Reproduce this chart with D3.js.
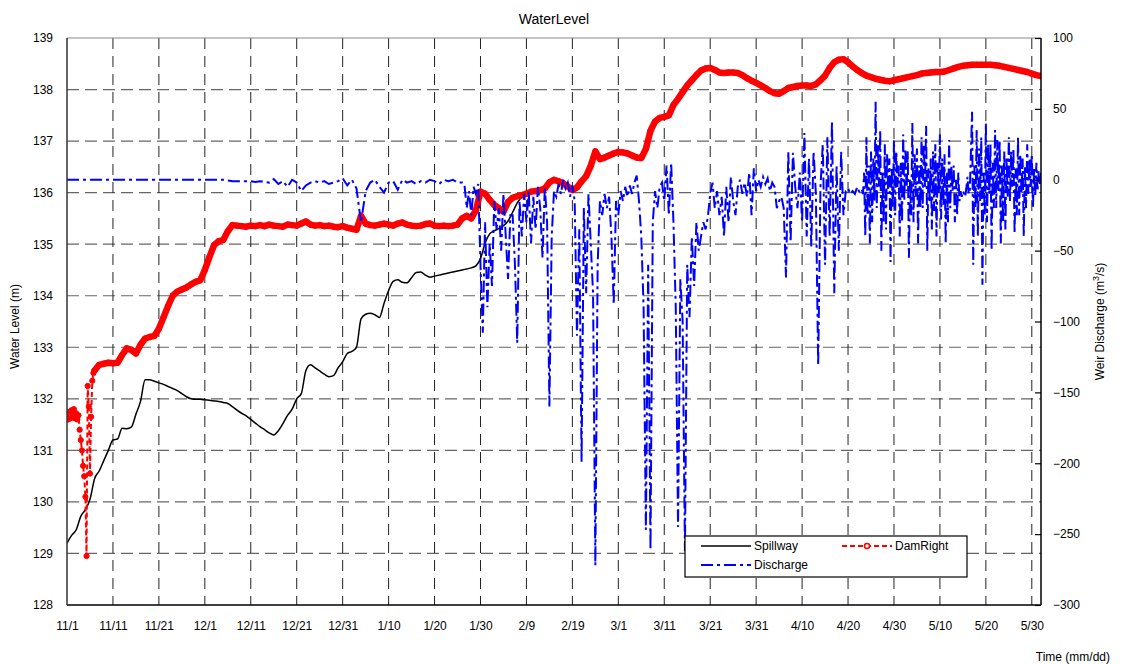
<!DOCTYPE html>
<html>
<head>
<meta charset="utf-8">
<script src="https://cdn.jsdelivr.net/npm/d3@7"></script>
<style>
  body { margin: 0; background: #fff; }
  svg text { font-family: "Liberation Sans", Arial, sans-serif; fill: #000; }
</style>
</head>
<body>
<div id="chart"></div>
<script>
// series start at 2018-11-01 (day 0); x domain runs to 2019-06-01 (day 212)
const startDay = Date.UTC(2018, 10, 1);
const lastDay = 212;
const tickDays = [0, 10, 20, 30, 40, 50, 60, 70, 80, 90, 100, 110, 120, 130, 140, 150, 160, 170, 180, 190, 200, 210];
const levelTicks = [128, 129, 130, 131, 132, 133, 134, 135, 136, 137, 138, 139];
const dischargeTicks = [-300, -250, -200, -150, -100, -50, 0, 50, 100];

// Spillway water level (m), daily from day 0
const spillwayLevel = [
  129.20, 129.35, 129.46, 129.72, 129.85, 130.05, 130.45, 130.60, 130.80, 131.00,
  131.20, 131.22, 131.43, 131.42, 131.45, 131.70, 131.95, 132.37, 132.37, 132.34,
  132.31, 132.28, 132.24, 132.20, 132.16, 132.10, 132.04, 132.00, 131.99, 131.99,
  131.98, 131.97, 131.96, 131.95, 131.93, 131.91, 131.85, 131.78, 131.72, 131.67,
  131.60, 131.53, 131.46, 131.40, 131.34, 131.30, 131.38, 131.52, 131.68, 131.80,
  132.00, 132.10, 132.55, 132.66, 132.60, 132.54, 132.48, 132.43, 132.45, 132.60,
  132.72, 132.88, 132.92, 133.00, 133.55, 133.64, 133.66, 133.63, 133.58, 133.85,
  134.10, 134.28, 134.31, 134.26, 134.25, 134.35, 134.45, 134.46, 134.40, 134.36,
  134.38, 134.40, 134.42, 134.44, 134.46, 134.48, 134.50, 134.52, 134.54, 134.58,
  134.72, 135.02, 135.20, 135.26, 135.30, 135.36, 135.45, 135.62, 135.80, 135.92,
  136.00
];

// DamRight water level (m): quarter-day readings for days 0-5.75, then daily from day 6
const damRightEarly = [
  131.65, 131.60, 131.75, 131.62, 131.78, 131.70, 131.80, 131.62,
  131.72, 131.60, 131.68, 131.40, 131.20, 131.00, 130.70, 130.50,
  130.10, 128.95, 132.25, 131.85, 130.55, 131.65, 132.35, 132.50
];
const damRightDaily = [
  132.55, 132.66, 132.68, 132.70, 132.69, 132.70, 132.85, 132.98, 132.95, 132.88,
  133.05, 133.17, 133.20, 133.22, 133.36, 133.58, 133.80, 134.00, 134.08, 134.12,
  134.16, 134.22, 134.27, 134.30, 134.50, 134.75, 134.98, 135.06, 135.08, 135.25,
  135.37, 135.36, 135.35, 135.34, 135.36, 135.35, 135.37, 135.35, 135.38, 135.36,
  135.35, 135.34, 135.38, 135.37, 135.36, 135.40, 135.44, 135.38, 135.36, 135.37,
  135.35, 135.36, 135.34, 135.33, 135.35, 135.32, 135.30, 135.28, 135.55, 135.40,
  135.37, 135.36, 135.38, 135.40, 135.38, 135.36, 135.40, 135.42, 135.38, 135.36,
  135.35, 135.36, 135.39, 135.40, 135.36, 135.35, 135.36, 135.35, 135.36, 135.38,
  135.50, 135.55, 135.50, 135.66, 136.02, 135.98, 135.86, 135.76, 135.70, 135.63,
  135.82, 135.90, 135.93, 135.95, 135.98, 136.02, 136.03, 136.05, 136.08, 136.20,
  136.25, 136.22, 136.18, 136.12, 136.05, 136.10, 136.22, 136.32, 136.52, 136.80,
  136.65, 136.68, 136.72, 136.76, 136.79, 136.78, 136.76, 136.72, 136.68, 136.67,
  136.85, 137.20, 137.38, 137.45, 137.47, 137.50, 137.70, 137.82, 137.95, 138.08,
  138.18, 138.28, 138.37, 138.41, 138.42, 138.38, 138.33, 138.32, 138.33, 138.33,
  138.32, 138.28, 138.22, 138.17, 138.13, 138.08, 138.03, 137.97, 137.93, 137.92,
  137.97, 138.03, 138.05, 138.07, 138.08, 138.08, 138.07, 138.10, 138.18, 138.27,
  138.42, 138.53, 138.58, 138.59, 138.53, 138.45, 138.38, 138.32, 138.27, 138.24,
  138.21, 138.19, 138.17, 138.16, 138.18, 138.20, 138.22, 138.24, 138.26, 138.28,
  138.31, 138.32, 138.33, 138.34, 138.34, 138.35, 138.38, 138.41, 138.44, 138.46,
  138.47, 138.48, 138.48, 138.48, 138.48, 138.48, 138.47, 138.46, 138.44, 138.42,
  138.40, 138.38, 138.36, 138.34, 138.31, 138.28, 138.26
];

// Weir discharge (m3/s): daily for days 0-86, half-day for 86.5-173, quarter-day from 173.25
const dischargeDaily = [
  0, 0, 0, 0, 0, 0, 0, 0, 0, 0,
  0, 0, 0, 0, 0, 0, 0, 0, 0, 0,
  0, 0, 0, 0, 0, 0, 0, 0, 0, 0,
  0, 0, 0, 0, 0, -0.5, -1, -1, -1, -1,
  -1, -1.5, -1, -1.5, -2, 0.5, -3, -1, -5, 0,
  -2, -8, -4, -2, -1, -2, -1, -3, -2, -1,
  1, -4, 0, -6, -30, -8, -2, 0, -5, -9,
  -2, -1, -7, 0, -2, -1, -3, -1, -2, 0,
  -1, -3, 0, -1, 0, -2, -2
];
const dischargeHalfDay = [
  -3,
  -20, -8, -25, -5, -10, -3, -60, -108, -30, -90,
  -45, -75, -15, -35, -20, -50, -10, -40, -70, -25,
  -25, -60, -115, -15, -40, -10, -30, -8, -45, -12,
  -35, -5, -20, -55, -5, -30, -160, -40, -8, -12,
  -3, -10, 0, -6, -2, -12, -4, -15, -110, -35,
  -199, -20, -80, -10, -45, -80, -272, -60, -15, -25,
  -10, -20, -12, -40, -88, -15, -25, -8, -15, -5,
  -12, -4, -10, -2, 3, -15, -40, -90, -247, -60,
  -261, -30, -8, -20, -5, -2, -15, 10, -25, 12,
  -30, -90, -245, -70, -100, -262, -60, -97, -40, -75,
  -30, -50, -40, -30, -35, -26, -10, -2, -20, -8,
  -25, -12, -40, -5, -30, 2, -15, -25, -5, 0,
  -10, -2, -12, 5, -25, 8, -8, 0, -5, 2,
  -3, 1, -8, -2, -5, -20, -15, -12, -20, -69,
  20, -44, 19, -5, -20, 5, -30, 33, -40, 15,
  -47, 20, -10, -131, -5, 25, -60, 30, -40, 41,
  -80, 10, -50, 20, -25, -8, -6, -10, -8, -10,
  -5, -9, -7
];
const dischargeQuarterDay = [
  -10, 5, -40,
  30, -25, 10, -45,   20, -30, 15, -15,   55, -20, 25, -5,   35, -50, 5, -30,
  25, -35, 18, -10,   15, -58, 8, -20,    28, -25, 20, -5,   10, -40, 12, -30,
  32, -15, 22, -8,    20, -55, 0, -25,    40, -30, 18, -12,  22, -45, 10, -20,
  30, -20, 25, -5,    38, -50, 8, -15,    15, -35, 20, -22,  25, -40, 12, -10,
  32, -28, 15, -18,   18, -45, 5, -30,    28, -20, 10, -8,   10, -30, 0, -25,
  5, -15, -8, -12,    -8, -10, -12, -6,   2, -10, -8, 20,    48, -60, 10, -20,
  35, -40, 22, -15,   30, -74, 5, -25,    40, -30, 25, -10,  25, -50, 12, -20,
  35, -20, 28, -8,    28, -45, 10, -30,   20, -35, 15, -12,  30, -15, 20, -5,
  22, -38, 8, -25,    30, -25, 18, -10,   15, -40, 10, -20,  25, -10, 15, -5,
  18, -20, 8, -12,    12, -8, 6, -3,
  5
];

const toDate = day => new Date(startDay + day * 864e5);

const spillway = spillwayLevel.map((v, i) => ({ t: toDate(i), v }));
const damEarly = damRightEarly.map((v, i) => ({ t: toDate(i * 0.25), v }));
const damDaily = damRightDaily.map((v, i) => ({ t: toDate(6 + i), v }));
const damRight = damEarly.concat(damDaily);
const discharge = dischargeDaily.map((v, i) => ({ t: toDate(i), v }))
  .concat(dischargeHalfDay.map((v, i) => ({ t: toDate(86.5 + i * 0.5), v })))
  .concat(dischargeQuarterDay.map((v, i) => ({ t: toDate(173.25 + i * 0.25), v })));

const width = 1122, height = 664;
const margin = { top: 38, right: 81, bottom: 59, left: 67 };
const w = width - margin.left - margin.right;
const h = height - margin.top - margin.bottom;

const svg = d3.select("#chart").append("svg")
  .attr("width", width)
  .attr("height", height);

const x = d3.scaleUtc().domain([toDate(0), toDate(lastDay)]).range([0, w]);
const yL = d3.scaleLinear().domain([128, 139]).range([h, 0]);
const yR = d3.scaleLinear().domain([-300, 100]).range([h, 0]);

const g = svg.append("g").attr("transform", `translate(${margin.left},${margin.top})`);

g.append("clipPath").attr("id", "plot-clip")
  .append("rect").attr("width", w).attr("height", h);

// grid
g.append("g").selectAll("line")
  .data(levelTicks.slice(1, -1))
  .enter().append("line")
  .attr("x1", 0).attr("x2", w)
  .attr("y1", d => yL(d)).attr("y2", d => yL(d))
  .attr("stroke", "#666").attr("stroke-width", 1.2)
  .attr("stroke-dasharray", "12,6");

g.append("g").selectAll("line")
  .data(tickDays.slice(1))
  .enter().append("line")
  .attr("x1", d => x(toDate(d))).attr("x2", d => x(toDate(d)))
  .attr("y1", 0).attr("y2", h)
  .attr("stroke", "#222").attr("stroke-width", 1)
  .attr("stroke-dasharray", "11,7");

// series
const plot = g.append("g").attr("clip-path", "url(#plot-clip)");

const lineL = d3.line().x(d => x(d.t)).y(d => yL(d.v));
const lineR = d3.line().x(d => x(d.t)).y(d => yR(d.v));

plot.append("path")
  .datum(spillway)
  .attr("d", d3.line().x(d => x(d.t)).y(d => yL(d.v)).curve(d3.curveMonotoneX))
  .attr("fill", "none")
  .attr("stroke", "#000")
  .attr("stroke-width", 1.5);

// DamRight: dashed line with circle markers; where the readings are dense the
// markers merge into one thick band
plot.append("path")
  .datum(damEarly.concat(damDaily.slice(0, 1)))
  .attr("d", lineL)
  .attr("fill", "none")
  .attr("stroke", "#ff0000")
  .attr("stroke-width", 2)
  .attr("stroke-dasharray", "5,3");

plot.append("path")
  .datum(damDaily)
  .attr("d", lineL)
  .attr("fill", "none")
  .attr("stroke", "#ff0000")
  .attr("stroke-width", 6.5)
  .attr("stroke-linejoin", "round")
  .attr("stroke-linecap", "round");

plot.append("g").selectAll("circle")
  .data(damRight)
  .enter().append("circle")
  .attr("cx", d => x(d.t))
  .attr("cy", d => yL(d.v))
  .attr("r", 2.6)
  .attr("fill", "#ff0000")
  .attr("stroke", "#ff0000")
  .attr("stroke-width", 1);

plot.append("path")
  .datum(discharge)
  .attr("d", lineR)
  .attr("fill", "none")
  .attr("stroke", "#0000ff")
  .attr("stroke-width", 2)
  .attr("stroke-dasharray", "12,4,3,4");

// frame
g.append("line").attr("x1", 0).attr("x2", w).attr("y1", 0).attr("y2", 0)
  .attr("stroke", "#888").attr("stroke-width", 1);
g.append("line").attr("x1", 0).attr("x2", w).attr("y1", h).attr("y2", h)
  .attr("stroke", "#000").attr("stroke-width", 1.5);
g.append("line").attr("x1", 0).attr("x2", 0).attr("y1", 0).attr("y2", h)
  .attr("stroke", "#333").attr("stroke-width", 1.5);
g.append("line").attr("x1", w).attr("x2", w).attr("y1", 0).attr("y2", h)
  .attr("stroke", "#000").attr("stroke-width", 1.5);

// axes
const axisL = g.append("g")
  .call(d3.axisLeft(yL).tickValues(levelTicks).tickSize(0).tickPadding(14));
const axisR = g.append("g").attr("transform", `translate(${w},0)`)
  .call(d3.axisRight(yR).tickValues(dischargeTicks).tickSizeInner(-6).tickSizeOuter(0).tickPadding(12));
const axisB = g.append("g").attr("transform", `translate(0,${h})`)
  .call(d3.axisBottom(x).tickValues(tickDays.map(toDate))
    .tickFormat(d3.utcFormat("%-m/%-d")).tickSize(0).tickPadding(16));

[axisL, axisR, axisB].forEach(a => {
  a.select(".domain").remove();
  a.selectAll("text").style("font-size", "12px");
});
axisR.selectAll("line").attr("stroke", "#000").attr("stroke-width", 1.2);

// titles
svg.append("text")
  .attr("x", margin.left + w / 2).attr("y", 24)
  .attr("text-anchor", "middle")
  .style("font-size", "14px")
  .text("WaterLevel");

svg.append("text")
  .attr("transform", `translate(19,${margin.top + h / 2 + 5}) rotate(-90)`)
  .attr("text-anchor", "middle")
  .style("font-size", "12px")
  .text("Water Level (m)");

const rTitle = svg.append("text")
  .attr("transform", `translate(1104,${margin.top + h / 2}) rotate(-90)`)
  .attr("text-anchor", "middle")
  .style("font-size", "12px");
rTitle.append("tspan").text("Weir Discharge (m");
rTitle.append("tspan").attr("dy", -5).style("font-size", "9px").text("3");
rTitle.append("tspan").attr("dy", 5).text("/s)");

svg.append("text")
  .attr("x", 1110).attr("y", 661)
  .attr("text-anchor", "end")
  .style("font-size", "12px")
  .text("Time (mm/dd)");

// legend
const legend = svg.append("g").attr("transform", "translate(685,536)");
legend.append("rect")
  .attr("width", 282).attr("height", 41)
  .attr("fill", "#fff").attr("stroke", "#000").attr("stroke-width", 1.2);

const legendItems = [
  { name: "Spillway", x: 16, y: 10, color: "#000", dash: null, width: 1.5, marker: false },
  { name: "DamRight", x: 157, y: 10, color: "#ff0000", dash: "5,3", width: 2, marker: true },
  { name: "Discharge", x: 16, y: 29, color: "#0000ff", dash: "12,4,3,4", width: 2, marker: false }
];

const li = legend.selectAll("g.item")
  .data(legendItems)
  .enter().append("g")
  .attr("class", "item")
  .attr("transform", d => `translate(${d.x},${d.y})`);

li.append("line")
  .attr("x1", 0).attr("x2", 50)
  .attr("stroke", d => d.color)
  .attr("stroke-width", d => d.width)
  .attr("stroke-dasharray", d => d.dash);

li.filter(d => d.marker).append("circle")
  .attr("cx", 25).attr("r", 2.5)
  .attr("fill", "#fff").attr("stroke", "#ff0000").attr("stroke-width", 1.5);

li.append("text")
  .attr("x", 53)
  .attr("dy", "0.35em")
  .style("font-size", "12px")
  .text(d => d.name);
</script>
</body>
</html>
